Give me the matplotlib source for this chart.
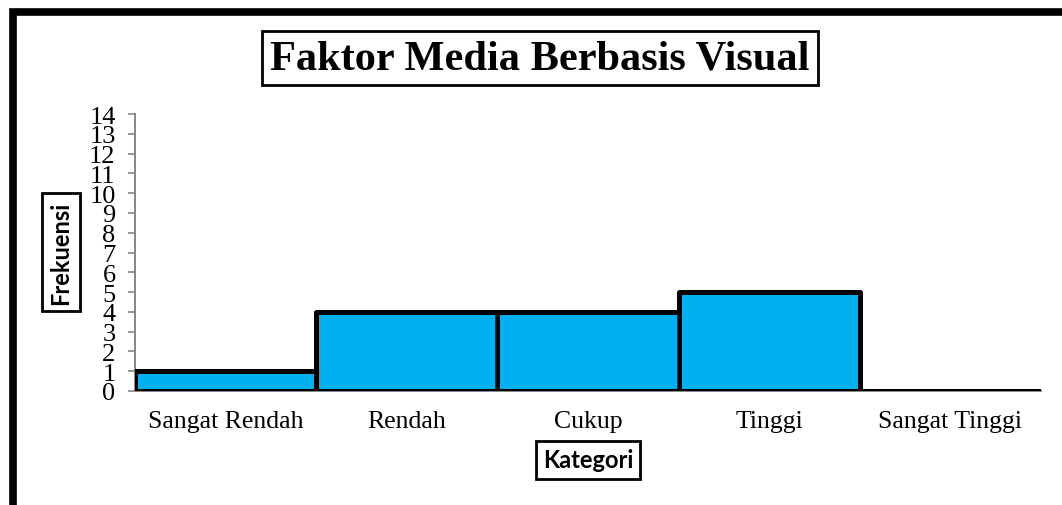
import matplotlib.pyplot as plt
from matplotlib.patches import Rectangle

categories = ["Sangat Rendah", "Rendah", "Cukup", "Tinggi", "Sangat Tinggi"]
frekuensi = [1, 4, 4, 5, 0]
y_ticks = list(range(0, 15))

W, H = 1062, 506
fig = plt.figure(figsize=(W / 100, H / 100), dpi=100)

# outer frame (clipped at right and bottom like the original)
fig.patches.append(Rectangle((13 / W, -0.1), 1.2, 1.1 - 13 / H, transform=fig.transFigure,
                             fill=False, edgecolor="black", linewidth=5.5, zorder=0))

ax = fig.add_axes([135 / W, (H - 392) / H, (1041 - 135) / W, (392 - 115) / H])
x = range(len(categories))
ax.bar(x, frekuensi, width=1.0, color="#00B0F0", edgecolor="black",
       linewidth=3.6, joinstyle="round", zorder=3)
ax.set_xlim(-0.5, 4.5)
ax.set_ylim(0, 14)
ax.set_yticks(y_ticks)
ax.set_yticklabels([str(t) for t in y_ticks], family="Liberation Serif", fontsize=19)
ax.set_xticks(list(x))
ax.set_xticklabels(categories, family="Liberation Serif", fontsize=18.5)
ax.tick_params(axis="x", length=0, pad=14)
ax.tick_params(axis="y", length=5, width=1.2, color="#868686", pad=9)
for s in ["top", "right"]:
    ax.spines[s].set_visible(False)
for s in ["left", "bottom"]:
    ax.spines[s].set_color("#868686")
    ax.spines[s].set_linewidth(1.4)

box = dict(boxstyle="square,pad=0.2", facecolor="white", edgecolor="black", linewidth=2)
fig.text(540 / W, 1 - 59 / H, "Faktor Media Berbasis Visual", family="Liberation Serif",
         fontweight="bold", fontsize=30.5, ha="center", va="center", bbox=box)
fig.text(61 / W, 1 - 253 / H, "Frekuensi", family="Lato", fontweight="bold", fontsize=17,
         rotation=90, ha="center", va="center",
         bbox=dict(boxstyle="square,pad=0.3", facecolor="white", edgecolor="black", linewidth=2))
fig.text(588 / W, 1 - 461 / H, "Kategori", family="Lato", fontweight="bold", fontsize=17,
         ha="center", va="center",
         bbox=dict(boxstyle="square,pad=0.3", facecolor="white", edgecolor="black", linewidth=2))

fig.savefig("out.png", dpi=100)
